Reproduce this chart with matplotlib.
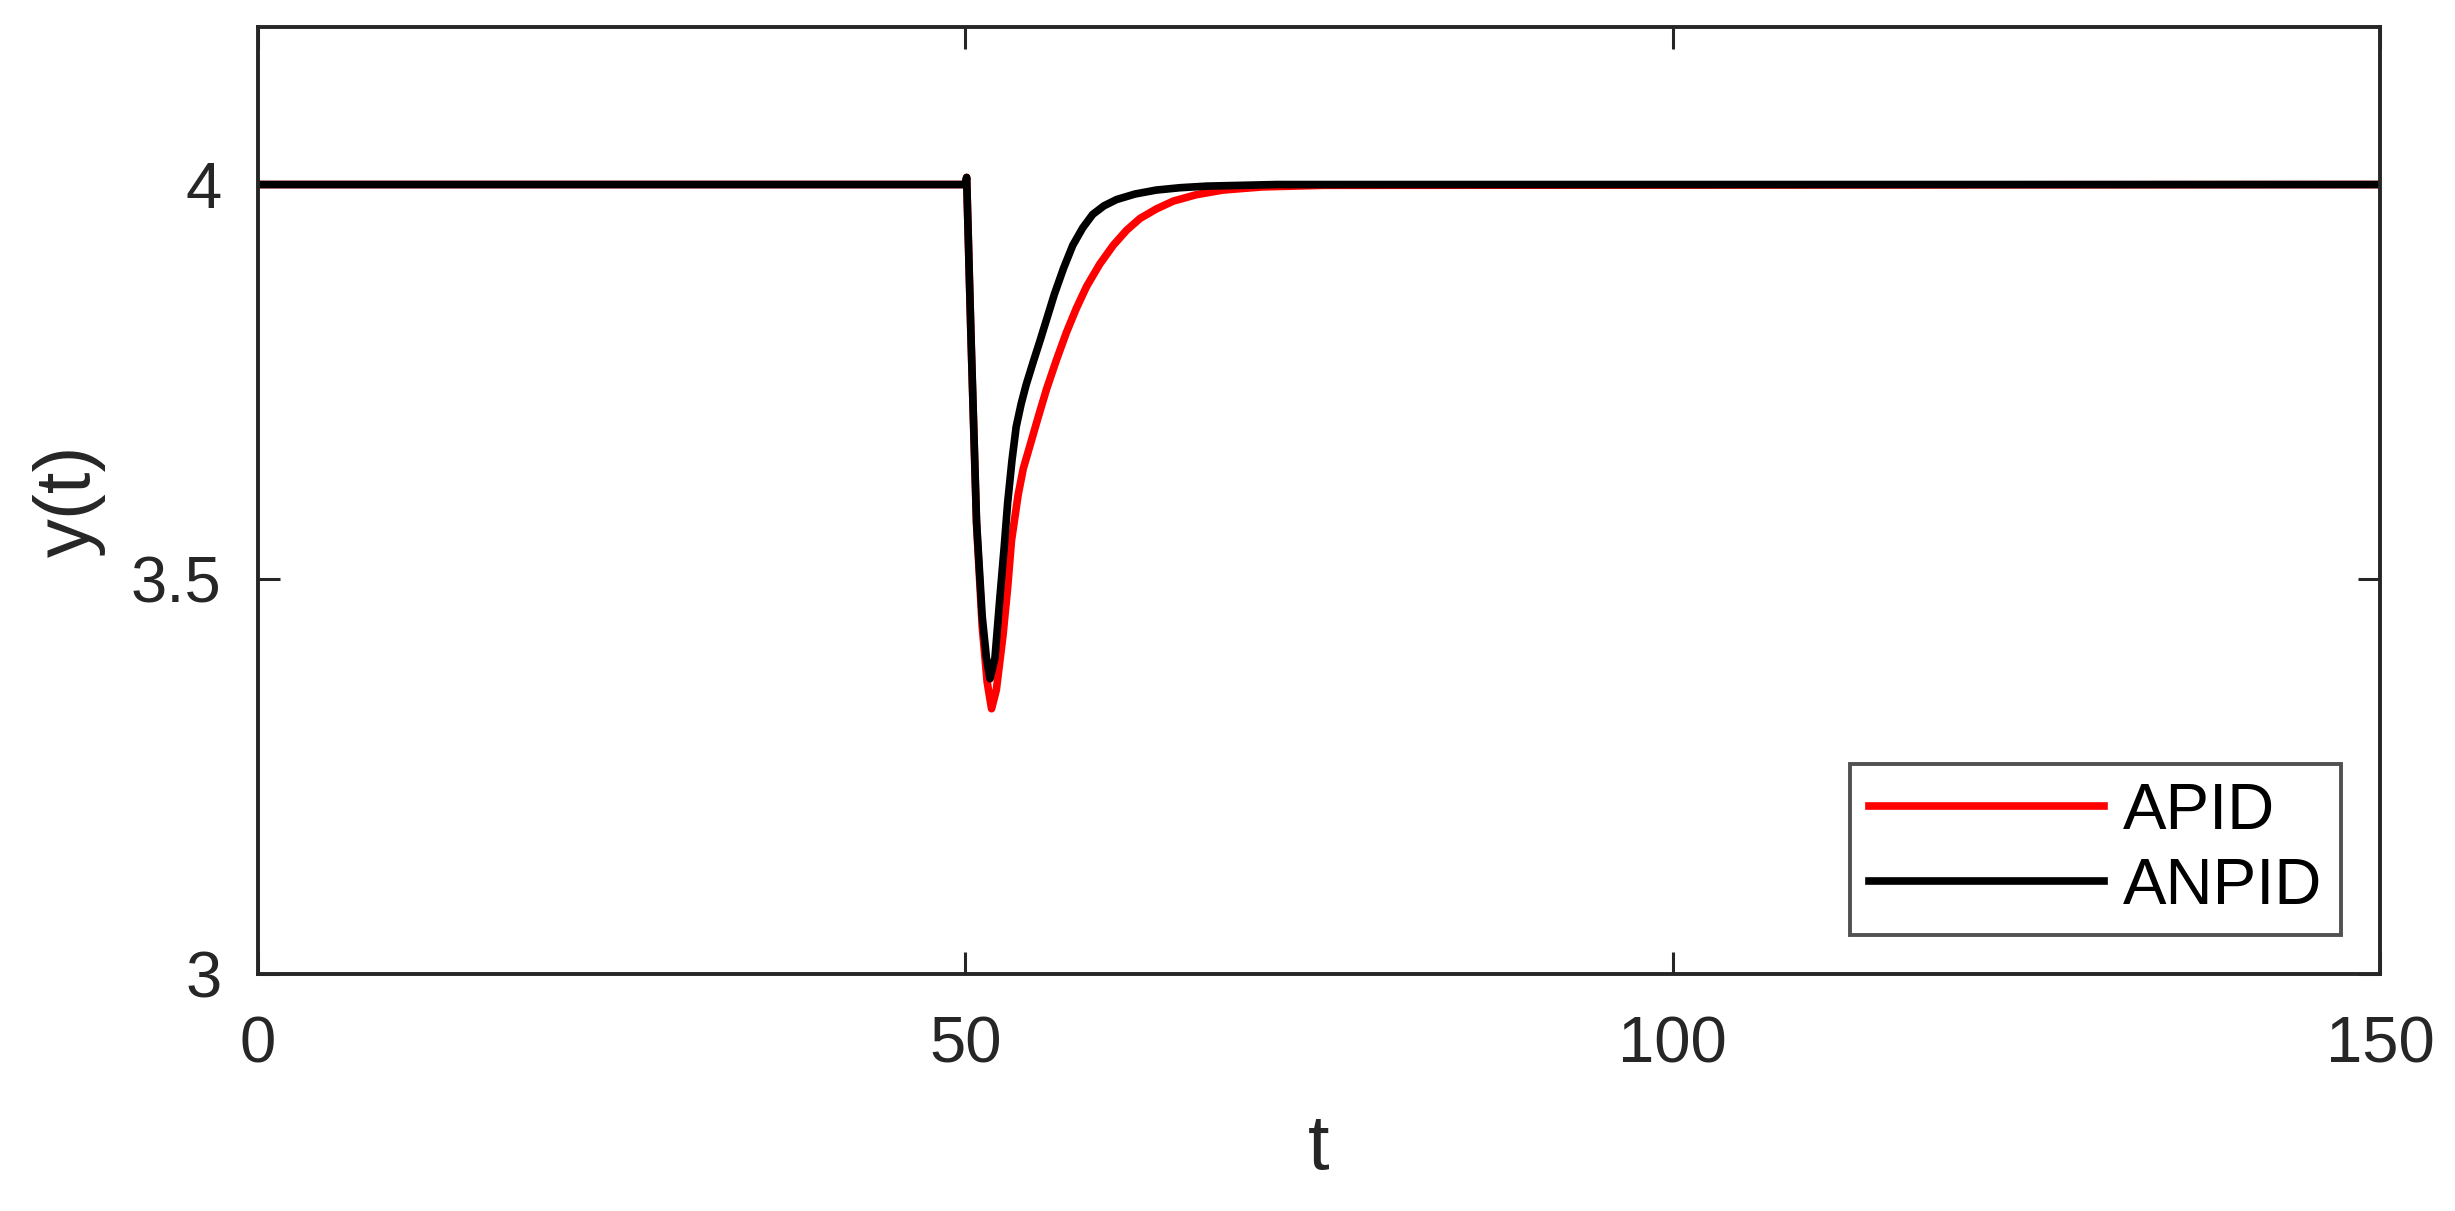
import matplotlib
matplotlib.use("Agg")
import matplotlib.pyplot as plt

# values
t_apid = [0, 50.0, 50.1, 50.4, 50.8, 51.2, 51.55, 51.86, 52.2, 52.67, 53.0, 53.27, 53.74,
          54.1, 54.57, 55.15, 55.75, 56.45, 57.16, 57.85, 58.58, 59.5, 60.46, 61.4,
          62.35, 63.5, 64.7, 66.3, 68.2, 71.0, 75.3, 150]
y_apid = [4, 4, 4.009, 3.81, 3.57, 3.44, 3.37, 3.336, 3.36, 3.429, 3.49, 3.549, 3.607,
          3.64, 3.669, 3.705, 3.741, 3.778, 3.813, 3.843, 3.871, 3.899, 3.923, 3.942,
          3.957, 3.969, 3.979, 3.987, 3.993, 3.997, 3.999, 4.0]

t_anpid = [0, 50.0, 50.1, 50.4, 50.8, 51.2, 51.5, 51.75, 52.1, 52.45, 52.75, 53.0, 53.3,
           53.6, 53.95, 54.3, 54.8, 55.3, 55.8, 56.3, 56.95, 57.6, 58.3, 59.0, 59.8,
           60.7, 62.0, 63.5, 65.2, 67.1, 72, 150]
y_anpid = [4, 4, 4.009, 3.813, 3.573, 3.453, 3.40, 3.374, 3.40, 3.477, 3.54, 3.597, 3.65,
           3.693, 3.722, 3.746, 3.775, 3.803, 3.832, 3.861, 3.894, 3.923, 3.945, 3.962, 3.973,
           3.981, 3.988, 3.993, 3.996, 3.998, 4.0, 4.0]

xticks = [0, 50, 100, 150]
yticks = [3, 3.5, 4]

plt.rcParams['font.family'] = ['Liberation Sans', 'DejaVu Sans']
axis_col = '#262626'

fig = plt.figure(figsize=(24.55, 12.11), dpi=100)
ax = fig.add_axes([0.105, 0.1957, 0.8645, 0.7823])

ax.plot(t_apid, y_apid, color='red', lw=5.5, label='APID')
ax.plot(t_anpid, y_anpid, color='black', lw=5.5, label='ANPID')

ax.set_xlim(0, 150)
ax.set_ylim(3, 4.2)
ax.set_xticks(xticks)
ax.set_yticks(yticks)
ax.set_xticklabels([str(v) for v in xticks])
ax.set_yticklabels(['3', '3.5', '4'])

for s in ax.spines.values():
    s.set_color(axis_col)
    s.set_linewidth(2.8)
ax.tick_params(direction='in', length=16, width=2.2, colors=axis_col,
               labelcolor=axis_col, labelsize=47, top=True, right=True)
ax.tick_params(axis='x', pad=30)
ax.tick_params(axis='y', pad=26)

ax.set_xlabel('t', fontsize=56, color=axis_col, labelpad=26)
ax.set_ylabel('y(t)', fontsize=56, color=axis_col, labelpad=18)

leg = ax.legend(loc='lower right', fontsize=47, frameon=True, fancybox=False,
                edgecolor=axis_col, handlelength=3.6, borderaxespad=0.6,
                labelspacing=0.22, handletextpad=0.3, borderpad=0.28)
leg.get_frame().set_linewidth(2.8)

fig.savefig('out.png', dpi=100, facecolor='white')
